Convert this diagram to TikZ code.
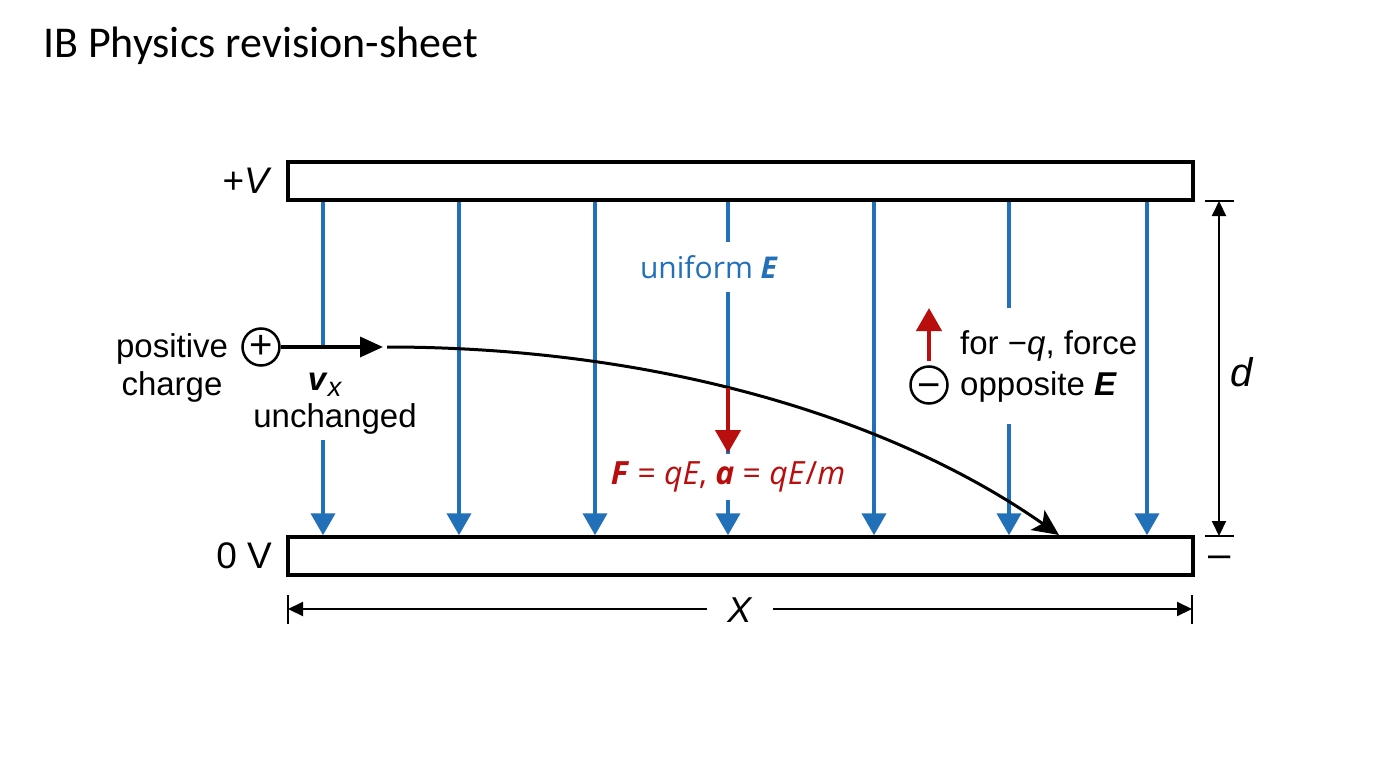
\documentclass[tikz,border=0pt]{standalone}
\usepackage{fontspec}
\setmainfont{Liberation Sans}
\newfontfamily\titlefont{Carlito}
\newfontfamily\fieldfont{Open Sans}
\usetikzlibrary{positioning,calc,arrows.meta}

\definecolor{fieldblue}{RGB}{33,112,184}
\definecolor{forcered}{RGB}{184,14,14}

\tikzset{
  plate/.style={draw, line width=3.5pt, fill=white, minimum width=905pt, minimum height=38pt, inner sep=0pt},
  fieldline/.style={fieldblue, line width=4pt, -{Triangle[length=22pt,width=24pt]}},
  forcearrow/.style={forcered, line width=4.5pt, -{Triangle[length=23pt,width=25pt]}},
  charge/.style={circle, draw, line width=2.5pt, minimum size=37pt, inner sep=0pt, font=\fontsize{40}{40}\selectfont},
  vel/.style={line width=3.5pt, -{Triangle[length=23pt,width=20pt]}},
  traj/.style={line width=3pt, -{Stealth[length=26pt,width=24pt,inset=6pt]}},
  dimline/.style={line width=2pt, {Triangle[length=15pt,width=14pt]}-{Triangle[length=15pt,width=14pt]}},
  tick/.style={line width=2pt},
  lbl/.style={font=\fontsize{33}{40}\selectfont, inner sep=2pt},
  fieldlbl/.style={font=\fieldfont\fontsize{30}{36}\selectfont, inner sep=2pt}
}

\begin{document}
\begin{tikzpicture}[x=1pt,y=-1pt]
    \useasboundingbox (0,0) rectangle (1376,768);

    % Title
    \node[anchor=base west, inner sep=0pt, font=\titlefont\fontsize{44}{52}\selectfont] (title) at (43,58) {IB Physics revision-sheet};

    % Plates
    \node[plate] (topplate) at (740.5,181) {};
    \node[plate] (botplate) at (740.5,556) {};
    \node[lbl, font=\fontsize{37}{40}\selectfont, anchor=east] (vplus) at (274,181) {+\textit{V}};
    \node[lbl, font=\fontsize{37}{40}\selectfont, anchor=east] (vzero) at (274,556) {0 V};
    \node[lbl, font=\fontsize{40}{40}\selectfont] (minus) at (1220,562) {–};

    % Field lines
    \foreach \x in {323,459,595,728,874,1009,1147}
        \draw[fieldline] (\x,0 |- topplate.south) -- (\x,0 |- botplate.north);

    % Labels over the field
    \node[fieldlbl, text=fieldblue, fill=white, inner ysep=13pt] (uniform) at (709,267) {uniform \textbf{\textit{E}}};
    \node[fieldlbl, font=\fieldfont\fontsize{32}{36}\selectfont, text=forcered, fill=white, inner ysep=8pt] (force) at (728,477) {\textbf{\textit{F}} = \textit{qE}, \textbf{\textit{a}} = \textit{qE}/\textit{m}};
    \node[lbl, font=\fontsize{33}{41}\selectfont, fill=white, align=left, anchor=west, inner xsep=4pt, inner ysep=22pt] (negtext) at (956,366) {for −\textit{q}, force\\opposite \textbf{\textit{E}}};
    \node[lbl, fill=white, minimum height=72pt] (vx) at (325,385) {\textbf{\textit{v}}\raisebox{-6pt}{\fontsize{27}{27}\selectfont\textit{x}}};
    \node[lbl, fill=white, inner ysep=6pt] (unchanged) at (335,419) {unchanged};
    \node[lbl, font=\fontsize{33}{38}\selectfont, align=center] (poslbl) at (172,368) {positive\\charge};

    % Positive charge and path
    \node[charge] (pos) at (261,347) {+};
    \coordinate (vtip) at (383,347);
    \draw[vel] (pos) -- (vtip);
    \coordinate (start) at (387,347);
    \coordinate (land) at (1059,535);
    \draw[traj] (start) .. controls (640,347) and (880,410) .. (land);

    % Force arrows
    \coordinate (hit) at (728,388);
    \coordinate (ftip) at (728,453);
    \draw[forcearrow] (hit) -- (ftip);
    \node[charge] (neg) at (929,385) {\raisebox{-13pt}[0pt][0pt]{−}};
    \coordinate (nftip) at (929,308);
    \draw[forcearrow, shorten <=4pt] (neg) -- (nftip);

    % Plate separation d
    \coordinate (dtop) at (1219,201);
    \coordinate (dbot) at (1219,536);
    \draw[dimline] (dtop) -- (dbot);
    \draw[tick] ($(dtop)+(-14,0)$) -- ($(dtop)+(15,0)$);
    \draw[tick] ($(dbot)+(-14,0)$) -- ($(dbot)+(15,0)$);
    \node[lbl, font=\fontsize{40}{40}\selectfont] (dlbl) at (1242,372) {\textit{d}};

    % Plate length X
    \coordinate (xleft) at (288,609);
    \coordinate (xright) at (1192,609);
    \draw[dimline] (xleft) -- (xright);
    \draw[tick] ($(xleft)+(0,-14)$) -- ($(xleft)+(0,15)$);
    \draw[tick] ($(xright)+(0,-14)$) -- ($(xright)+(0,15)$);
    \node[lbl, font=\fontsize{36}{36}\selectfont, fill=white, inner xsep=20pt] (xlbl) at (740,610) {\textit{X}};
\end{tikzpicture}
\end{document}
